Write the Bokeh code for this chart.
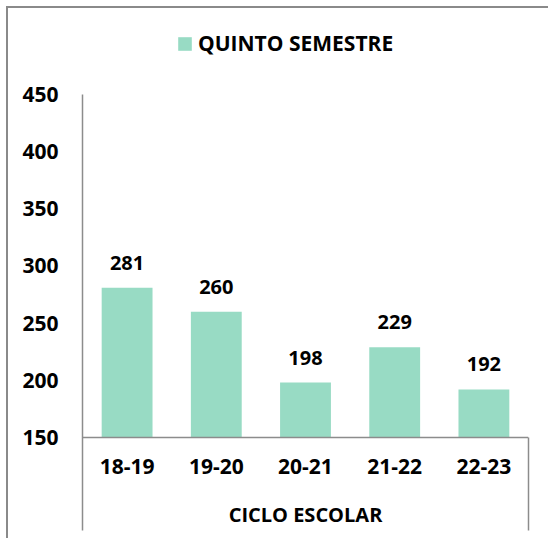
from bokeh.plotting import figure
from bokeh.models import (ColumnDataSource, FactorRange, Range1d, LinearAxis, CategoricalAxis,
                          FixedTicker, LabelSet, Legend, LegendItem)
from bokeh.core.properties import value
from bokeh.embed import file_html
from bokeh.resources import INLINE

# ---- data ----
cycles = ["18-19", "19-20", "20-21", "21-22", "22-23"]
values = [281, 260, 198, 229, 192]
series_name = "QUINTO SEMESTRE"
x_title = "CICLO ESCOLAR"
y_ticks = [150, 200, 250, 300, 350, 400, 450]

FONT = "Open Sans"
BAR = "#98DBC4"
AX = "#8c8c8c"

src = ColumnDataSource(dict(x=cycles, top=values, lab=[str(v) for v in values]))

y_axis_min = 150
y_axis_max = 450
y_lo = 68.66   # frame extends below the category axis
y_hi = 525.2   # and above the value axis (room for legend)

p = figure(width=542, height=532, x_range=FactorRange(*cycles, range_padding=0),
           y_range=Range1d(y_lo, y_hi), output_backend="svg", toolbar_location=None,
           x_axis_location=None, y_axis_location=None,
           min_border_left=74, min_border_right=22, min_border_top=0, min_border_bottom=10)
p.outline_line_color = None
p.xgrid.visible = False
p.ygrid.visible = False
p.background_fill_color = None
p.styles = {"margin-left": "6px", "margin-top": "6px",
            "border-left": "2px solid #8a8a8a", "border-top": "2px solid #8a8a8a"}

r = p.vbar(x="x", top="top", bottom=y_axis_min, width=0.57, source=src,
           fill_color=BAR, line_color=None)

# left value axis
yax = LinearAxis(ticker=FixedTicker(ticks=y_ticks), bounds=(y_lo, y_axis_max))
yax.axis_line_color = AX
yax.axis_line_width = 1.5
yax.major_tick_line_color = None
yax.major_tick_out = 0
yax.major_tick_in = 0
yax.minor_tick_line_color = None
yax.major_label_standoff = 24
yax.major_label_text_font = FONT
yax.major_label_text_font_style = "bold"
yax.major_label_text_font_size = "21px"
yax.major_label_text_color = "black"
p.add_layout(yax, "left")

# right closing line of the category box
rax = LinearAxis(ticker=FixedTicker(ticks=[]), bounds=(y_lo, y_axis_min))
rax.axis_line_color = AX
rax.axis_line_width = 1.5
rax.major_tick_line_color = None
rax.minor_tick_line_color = None
rax.major_tick_out = 0
rax.major_label_text_font_size = "0px"
rax.major_label_standoff = 0
p.add_layout(rax, "right")

# category axis placed at y = 150
xax = CategoricalAxis(fixed_location=y_axis_min)
xax.axis_line_color = AX
xax.axis_line_width = 1.5
xax.major_tick_line_color = None
xax.major_tick_out = 0
xax.minor_tick_line_color = None
xax.major_label_standoff = 22
xax.major_label_text_font = FONT
xax.major_label_text_font_style = "bold"
xax.major_label_text_font_size = "21px"
xax.major_label_text_color = "black"
xax.axis_label = x_title
xax.axis_label_standoff = 23
xax.axis_label_text_font = FONT
xax.axis_label_text_font_style = "bold"
xax.axis_label_text_font_size = "20px"
xax.axis_label_text_color = "black"
p.add_layout(xax, "below")

labels = LabelSet(x="x", y="top", text="lab", source=src, y_offset=25,
                  text_align="center", text_baseline="middle",
                  text_font=value(FONT), text_font_style="bold", text_font_size="20px",
                  text_color="black")
p.add_layout(labels)

legend = Legend(items=[LegendItem(label=series_name, renderers=[r])],
                location=(94, 473), orientation="horizontal",
                glyph_width=17, glyph_height=17, label_standoff=5,
                padding=0, margin=0, border_line_color=None, background_fill_alpha=0,
                label_text_font=FONT, label_text_font_style="bold",
                label_text_font_size="21px", label_text_color="black")
p.add_layout(legend, "center")

open("out.html", "w").write(file_html(p, INLINE))
